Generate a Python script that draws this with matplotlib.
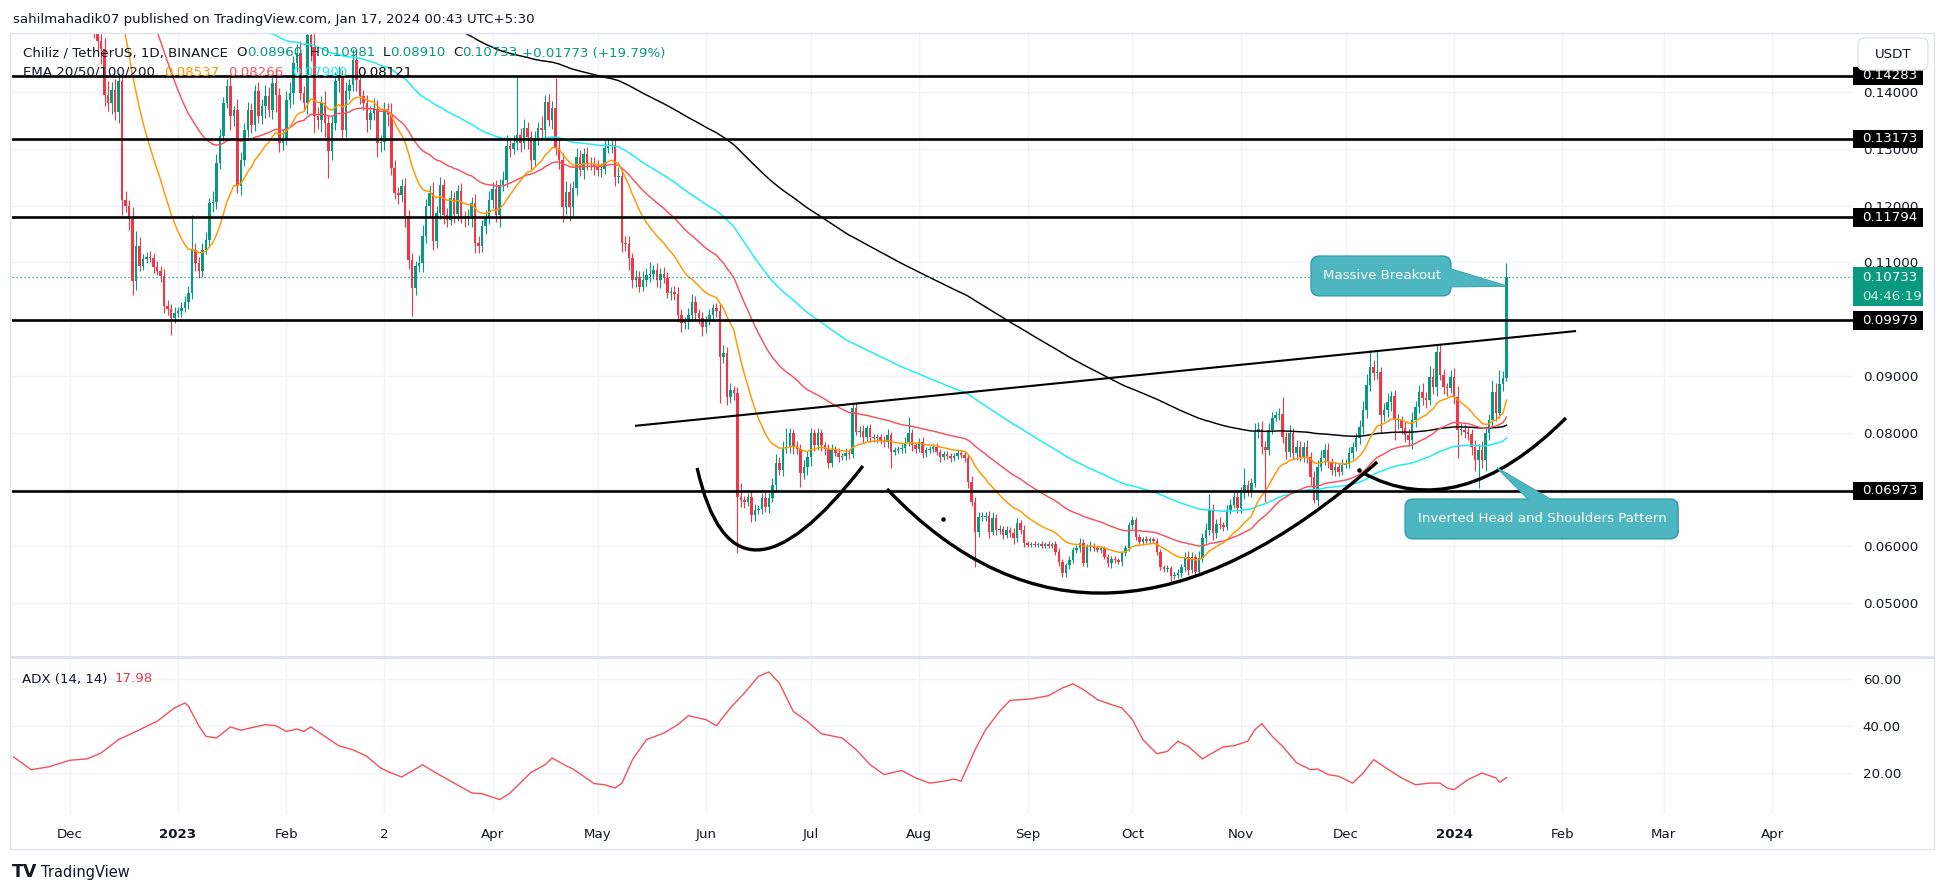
import numpy as np
import pandas as pd
import matplotlib
matplotlib.use('Agg')
import matplotlib.pyplot as plt
from matplotlib.patches import Rectangle, FancyBboxPatch, Polygon, PathPatch
from matplotlib.path import Path
from matplotlib.transforms import blended_transform_factory, IdentityTransform

plt.rcParams['font.family'] = ['DejaVu Sans']

# daily CHZ/USDT candles, first day 2022-11-15, open = previous close
first_day = '2022-11-15'
first_open = 0.2100

closes_2022_11 = [0.205, 0.198, 0.201, 0.194, 0.188, 0.191, 0.185, 0.179, 0.183, 0.186,
                  0.181, 0.176, 0.178, 0.172, 0.175, 0.169]
closes_2022_12 = [0.171, 0.166, 0.163, 0.167, 0.161, 0.158, 0.156, 0.152, 0.149, 0.1475,
                  0.1395, 0.1381, 0.1403, 0.1365, 0.1419, 0.1210, 0.1200, 0.1177, 0.1067, 0.1129,
                  0.1094, 0.1105, 0.1110, 0.1108, 0.1092, 0.1085, 0.1076, 0.1023, 0.1018, 0.1002,
                  0.1011]
closes_2023_01 = [0.1014, 0.1020, 0.1030, 0.1046, 0.1122, 0.1099, 0.1085, 0.1122, 0.1139, 0.1204,
                  0.1206, 0.1275, 0.1322, 0.1381, 0.1411, 0.1358, 0.1368, 0.1234, 0.1280, 0.1333,
                  0.1368, 0.1342, 0.1402, 0.1358, 0.1375, 0.1393, 0.1368, 0.1416, 0.1395, 0.1310,
                  0.1318]
closes_2023_02 = [0.1386, 0.1398, 0.1451, 0.1469, 0.1398, 0.1381, 0.1500, 0.1480, 0.1358, 0.1350,
                  0.1381, 0.1345, 0.1296, 0.1345, 0.1420, 0.1426, 0.1333, 0.1402, 0.1412, 0.1456,
                  0.1421, 0.1393, 0.1380, 0.1350, 0.1363, 0.1370, 0.1310, 0.1312]
closes_2023_03 = [0.1368, 0.1360, 0.1266, 0.1222, 0.1218, 0.1234, 0.1182, 0.1104, 0.1055, 0.1093,
                  0.1098, 0.1146, 0.1199, 0.1222, 0.1137, 0.1187, 0.1236, 0.1183, 0.1175, 0.1213,
                  0.1185, 0.1225, 0.1180, 0.1178, 0.1182, 0.1205, 0.1134, 0.1128, 0.1164, 0.1180,
                  0.1210]
closes_2023_04 = [0.1230, 0.1183, 0.1236, 0.1245, 0.1305, 0.1300, 0.1310, 0.1324, 0.1310, 0.1337,
                  0.1320, 0.1280, 0.1316, 0.1337, 0.1333, 0.1382, 0.1350, 0.1372, 0.1301, 0.1280,
                  0.1197, 0.1224, 0.1197, 0.1231, 0.1286, 0.1262, 0.1291, 0.1275, 0.1273, 0.1268]
closes_2023_05 = [0.1262, 0.1265, 0.1301, 0.1305, 0.1307, 0.1250, 0.1252, 0.1134, 0.1132, 0.1107,
                  0.1069, 0.1074, 0.1057, 0.1069, 0.1078, 0.1080, 0.1086, 0.1069, 0.1080, 0.1073,
                  0.1046, 0.1048, 0.1044, 0.1007, 0.0993, 0.0995, 0.1007, 0.1030, 0.1010, 0.1002,
                  0.0986]
closes_2023_06 = [0.0998, 0.1007, 0.1019, 0.1015, 0.0933, 0.0940, 0.0863, 0.0875, 0.0870, 0.0687,
                  0.0681, 0.0678, 0.0687, 0.0655, 0.0664, 0.0666, 0.0685, 0.0669, 0.0685, 0.0708,
                  0.0747, 0.0734, 0.0773, 0.0775, 0.0799, 0.0775, 0.0772, 0.0729, 0.0740, 0.0757]
closes_2023_07 = [0.0799, 0.0778, 0.0799, 0.0778, 0.0772, 0.0747, 0.0770, 0.0765, 0.0757, 0.0759,
                  0.0765, 0.0763, 0.0843, 0.0801, 0.0803, 0.0792, 0.0808, 0.0792, 0.0790, 0.0792,
                  0.0786, 0.0783, 0.0796, 0.0766, 0.0769, 0.0771, 0.0773, 0.0782, 0.0799, 0.0778,
                  0.0772]
closes_2023_08 = [0.0784, 0.0764, 0.0769, 0.0772, 0.0774, 0.0766, 0.0757, 0.0762, 0.0759, 0.0755,
                  0.0759, 0.0764, 0.0761, 0.0755, 0.0713, 0.0678, 0.0625, 0.0651, 0.0652, 0.0654,
                  0.0625, 0.0650, 0.0628, 0.0630, 0.0620, 0.0628, 0.0624, 0.0614, 0.0641, 0.0629,
                  0.0605]
closes_2023_09 = [0.0603, 0.0604, 0.0603, 0.0604, 0.0601, 0.0604, 0.0601, 0.0604, 0.0590, 0.0572,
                  0.0553, 0.0567, 0.0576, 0.0593, 0.0596, 0.0606, 0.0570, 0.0599, 0.0601, 0.0597,
                  0.0593, 0.0596, 0.0581, 0.0570, 0.0578, 0.0575, 0.0572, 0.0588, 0.0597, 0.0637]
closes_2023_10 = [0.0646, 0.0616, 0.0608, 0.0613, 0.0610, 0.0612, 0.0610, 0.0590, 0.0563, 0.0560,
                  0.0562, 0.0548, 0.0550, 0.0553, 0.0563, 0.0581, 0.0558, 0.0581, 0.0555, 0.0579,
                  0.0614, 0.0629, 0.0664, 0.0623, 0.0640, 0.0637, 0.0634, 0.0664, 0.0673, 0.0687,
                  0.0667]
closes_2023_11 = [0.0694, 0.0708, 0.0696, 0.0711, 0.0801, 0.0806, 0.0775, 0.0770, 0.0805, 0.0826,
                  0.0831, 0.0833, 0.0792, 0.0766, 0.0799, 0.0764, 0.0775, 0.0758, 0.0775, 0.0758,
                  0.0722, 0.0681, 0.0740, 0.0755, 0.0770, 0.0748, 0.0734, 0.0739, 0.0731, 0.0743]
closes_2023_12 = [0.0745, 0.0764, 0.0775, 0.0790, 0.0810, 0.0840, 0.0884, 0.0916, 0.0905, 0.0906,
                  0.0831, 0.0840, 0.0854, 0.0864, 0.0822, 0.0822, 0.0809, 0.0795, 0.0787, 0.0822,
                  0.0845, 0.0872, 0.0861, 0.0858, 0.0898, 0.0880, 0.0942, 0.0902, 0.0880, 0.0879,
                  0.0898]
closes_2024_01 = [0.0863, 0.0805, 0.0805, 0.0802, 0.0797, 0.0775, 0.0752, 0.0770, 0.0752, 0.0799,
                  0.0822, 0.0872, 0.0835, 0.0885, 0.0896, 0.10733]

# wick lengths above / below the body, in units of 0.0001
wick_up = ([45, 40, 50, 35, 40, 45, 30, 40, 35, 40, 30, 35, 40, 30, 35, 30]
           + [30, 35, 30, 40, 30, 35, 30, 25, 20, 20, 20, 25, 15, 20, 15, 10, 15, 10, 20, 26,
              15, 10, 8, 10, 8, 10, 8, 12, 10, 8, 10]
           + [8, 10, 10, 12, 61, 12, 10, 12, 15, 10, 20, 15, 12, 10, 12, 15, 8, 20, 15, 12,
              15, 12, 10, 15, 12, 20, 15, 10, 18, 12, 15]
           + [15, 20, 12, 15, 20, 12, 30, 40, 25, 15, 12, 20, 15, 12, 15, 20, 12, 15, 10, 20,
              15, 12, 10, 15, 12, 20, 15, 12]
           + [15, 12, 20, 15, 10, 12, 15, 10, 12, 10, 15, 20, 12, 15, 20, 12, 15, 10, 12, 15,
              10, 12, 15, 10, 12, 10, 15, 12, 10, 12, 15]
           + [12, 15, 10, 15, 20, 12, 15, 106, 12, 15, 10, 12, 15, 10, 20, 12, 15, 12, 52, 15,
              12, 20, 15, 12, 15, 12, 10, 12, 10, 12]
           + [12, 10, 15, 12, 10, 12, 15, 10, 12, 15, 10, 12, 10, 15, 12, 20, 10, 12, 10, 12,
              10, 8, 10, 12, 10, 8, 12, 15, 10, 8, 10]
           + [8, 10, 8, 10, 12, 15, 10, 12, 8, 10, 25, 8, 6, 8, 10, 6, 8, 10, 8, 12,
              15, 10, 12, 33, 10, 8, 10, 8, 12, 10]
           + [10, 8, 10, 8, 6, 8, 10, 6, 8, 6, 8, 6, 7, 11, 8, 10, 6, 8, 6, 5,
              6, 8, 10, 6, 5, 6, 8, 10, 29, 8, 6]
           + [6, 8, 6, 5, 6, 8, 5, 6, 5, 6, 5, 6, 5, 6, 8, 10, 8, 10, 8, 6,
              8, 10, 6, 8, 6, 8, 6, 8, 8, 6, 8]
           + [5, 4, 5, 4, 5, 4, 5, 4, 5, 6, 5, 4, 6, 5, 6, 8, 6, 5, 8, 5,
              4, 5, 4, 6, 5, 4, 5, 4, 5, 6]
           + [7, 6, 5, 4, 5, 4, 5, 4, 5, 4, 5, 4, 5, 6, 5, 8, 10, 8, 6, 12,
              10, 12, 28, 10, 8, 12, 6, 8, 10, 12, 8]
           + [10, 30, 8, 10, 16, 12, 15, 10, 12, 10, 8, 10, 30, 10, 15, 10, 12, 10, 8, 12,
              8, 10, 12, 15, 10, 12, 8, 10, 8, 10]
           + [8, 10, 8, 10, 12, 15, 20, 30, 12, 40, 10, 12, 15, 10, 12, 10, 8, 10, 12, 15,
              10, 12, 15, 10, 20, 15, 12, 12, 10, 8, 12]
           + [15, 20, 12, 10, 8, 10, 12, 10, 15, 12, 10, 21, 15, 25, 12, 25])
wick_dn = ([40, 45, 35, 40, 50, 35, 45, 30, 40, 35, 40, 45, 30, 40, 35, 40]
           + [35, 30, 40, 30, 35, 30, 30, 25, 20, 25, 20, 15, 20, 15, 20, 27, 12, 20, 25, 15,
              10, 8, 6, 8, 10, 8, 10, 12, 10, 30, 8]
           + [8, 10, 8, 12, 10, 15, 12, 10, 8, 12, 15, 12, 10, 8, 10, 25, 18, 12, 15, 10,
              12, 15, 10, 12, 15, 20, 12, 15, 30, 15, 12]
           + [12, 15, 20, 15, 12, 15, 20, 25, 30, 15, 20, 25, 48, 15, 12, 20, 15, 12, 15, 10,
              20, 15, 12, 20, 15, 12, 25, 15]
           + [15, 20, 12, 10, 15, 12, 20, 15, 49, 12, 10, 15, 12, 20, 15, 12, 10, 15, 12, 10,
              15, 12, 10, 15, 12, 20, 18, 12, 10, 15, 12]
           + [15, 12, 20, 10, 12, 15, 10, 12, 15, 10, 20, 15, 12, 10, 15, 12, 10, 15, 12, 15,
              26, 12, 25, 15, 12, 10, 15, 12, 10, 15]
           + [10, 12, 10, 8, 12, 15, 10, 15, 12, 20, 15, 12, 10, 8, 10, 12, 10, 12, 15, 10,
              8, 12, 10, 12, 15, 10, 12, 8, 12, 10, 15]
           + [10, 8, 10, 12, 81, 10, 14, 10, 12, 99, 12, 10, 8, 12, 10, 8, 10, 8, 10, 8,
              10, 8, 10, 8, 10, 12, 10, 25, 10, 15]
           + [15, 10, 8, 10, 12, 10, 8, 6, 8, 6, 8, 10, 8, 6, 8, 10, 6, 8, 6, 8,
              6, 8, 10, 28, 6, 5, 6, 8, 6, 10, 8]
           + [6, 8, 6, 5, 6, 5, 8, 6, 5, 6, 5, 6, 5, 6, 10, 8, 62, 8, 6, 8,
              10, 6, 8, 6, 8, 6, 8, 10, 6, 8, 6]
           + [5, 4, 5, 4, 5, 4, 5, 4, 5, 6, 8, 7, 8, 6, 5, 6, 5, 6, 8, 5,
              4, 5, 4, 6, 8, 5, 4, 6, 5, 6]
           + [6, 5, 4, 5, 4, 5, 4, 6, 5, 6, 5, 11, 5, 6, 8, 6, 8, 6, 8, 5,
              6, 8, 10, 12, 8, 6, 8, 6, 8, 6, 8]
           + [8, 10, 8, 10, 6, 10, 12, 92, 10, 8, 6, 8, 10, 12, 8, 10, 12, 8, 10, 12,
              15, 5, 10, 8, 12, 10, 8, 10, 8, 6]
           + [6, 8, 10, 8, 10, 12, 15, 10, 12, 10, 32, 10, 12, 15, 35, 15, 12, 12, 10, 15,
              12, 10, 12, 15, 10, 12, 15, 10, 12, 15, 10]
           + [12, 50, 10, 12, 10, 15, 20, 50, 15, 20, 12, 10, 15, 10, 12, 5])

# EMA starting values on the first day (history before the window)
ema_seed = {20: 0.200, 50: 0.195, 100: 0.210, 200: 0.200}

# ADX (14,14): day offset from 2023-01-01, value
adx_day = [-47, -42, -37, -31, -26, -22, -17, -12, -6, -1,
           2, 3, 6, 8, 11, 15, 18, 22, 25, 28,
           31, 34, 36, 38, 42, 46, 50, 54, 58, 61,
           64, 70, 73, 79, 84, 87, 92, 95, 101, 105,
           107, 111, 113, 116, 119, 122, 125, 127, 130, 134,
           139, 143, 146, 151, 154, 158, 162, 166, 169, 172,
           176, 180, 184, 190, 194, 198, 202, 207, 211, 215,
           219, 222, 224, 228, 231, 235, 238, 244, 249, 253,
           256, 259, 263, 267, 270, 273, 276, 280, 283, 286,
           289, 293, 295, 299, 302, 306, 308, 310, 313, 316,
           320, 324, 326, 329, 332, 336, 339, 342, 346, 350,
           354, 358, 361, 363, 365, 369, 373, 377, 378, 380]
adx_val = [26.8, 21.4, 22.6, 25.4, 26.0, 28.5, 34.2, 37.7, 42.0, 47.7,
           49.8, 48.4, 40.0, 35.6, 34.9, 39.6, 38.2, 39.6, 40.6, 40.1,
           37.7, 38.7, 37.7, 39.6, 35.6, 31.6, 29.9, 27.1, 22.1, 20.0,
           18.3, 23.5, 20.7, 15.7, 11.5, 11.2, 8.7, 11.5, 20.3, 23.5,
           26.4, 23.1, 21.7, 18.6, 15.5, 15.0, 13.6, 15.7, 25.7, 34.2,
           37.0, 40.6, 44.4, 42.7, 40.1, 47.7, 54.0, 61.1, 63.0, 58.3,
           46.2, 42.0, 36.7, 34.9, 29.9, 23.5, 19.3, 21.1, 17.9, 15.7,
           16.5, 17.4, 16.5, 29.9, 38.4, 46.2, 50.9, 51.5, 52.9, 56.2,
           57.9, 55.5, 51.2, 49.1, 47.7, 42.7, 34.2, 28.2, 29.2, 33.5,
           31.3, 26.0, 27.8, 31.1, 31.6, 33.5, 38.4, 41.0, 35.6, 31.3,
           24.3, 21.4, 21.7, 19.3, 18.6, 15.7, 20.0, 25.7, 21.7, 17.9,
           15.0, 15.7, 15.7, 13.6, 12.9, 17.2, 20.0, 17.9, 16.0, 18.0]

# drawings
levels = [0.14283, 0.13173, 0.11794, 0.09979, 0.06973]
last_price = 0.10733
trend_x = [130.7, 399.9]
trend_y = [0.0812, 0.0979]
arcs = [  # quadratic curves: start, control, end  (day, price)
    [(148.5, 0.07378), (159.0, 0.04472), (195.9, 0.07413)],
    [(202.8, 0.07008), (262.9, 0.03116), (343.0, 0.07483)],
    [(339.0, 0.07290), (366.4, 0.06374), (397.0, 0.08258)],
]
dots_x = [218.8, 337.8]
dots_y = [0.0648, 0.07342]

price_ticks = [0.05, 0.06, 0.07, 0.08, 0.09, 0.10, 0.11, 0.12, 0.13, 0.14]
adx_ticks = [20, 40, 60]
month_lbl = ['Dec', '2023', 'Feb', '2', 'Apr', 'May', 'Jun', 'Jul', 'Aug', 'Sep', 'Oct',
             'Nov', 'Dec', '2024', 'Feb', 'Mar', 'Apr']

UP = '#089981'
DN = '#F23645'
TXT = '#131722'
GRID = '#F0F3FA'
BORDER = '#E0E3EB'
EMA_COL = {20: '#FF9800', 50: '#F7525F', 100: '#18EEF2', 200: '#000000'}
CALL_FC = '#4DB6C1'
CALL_EC = '#2E9EAB'
FS = 9.6

closes = (closes_2022_11 + closes_2022_12 + closes_2023_01 + closes_2023_02 + closes_2023_03
          + closes_2023_04 + closes_2023_05 + closes_2023_06 + closes_2023_07 + closes_2023_08
          + closes_2023_09 + closes_2023_10 + closes_2023_11 + closes_2023_12 + closes_2024_01)

t0 = pd.Timestamp('2023-01-01')
dates = pd.date_range(first_day, periods=len(closes), freq='D')
day = (dates - t0).days.to_numpy()
c = np.array(closes)
o = np.concatenate([[first_open], c[:-1]])
hi = np.maximum(o, c) + np.array(wick_up) * 1e-4
lo = np.minimum(o, c) - np.array(wick_dn) * 1e-4


def ema(vals, n, seed):
    a = 2.0 / (n + 1)
    out, e = [], seed
    for v in vals:
        e += a * (v - e)
        out.append(e)
    return np.array(out)


W, H = 1946, 893
fig = plt.figure(figsize=(W / 100, H / 100), dpi=100)
fig.patch.set_facecolor('white')


def fx(px):
    return px / W


def fy(py):
    return 1 - py / H


ax = fig.add_axes([fx(12), fy(656), fx(1853) - fx(12), fy(33) - fy(656)])
ax2 = fig.add_axes([fx(12), fy(814), fx(1853) - fx(12), fy(658) - fy(814)])

xmin, xmax = (12 - 178) / 3.496, (1853 - 178) / 3.496
ax.set_xlim(xmin, xmax)
ax.set_ylim(0.05 - (656 - 603) / 5678, 0.05 + (603 - 33) / 5678)
ax2.set_xlim(xmin, xmax)
ax2.set_ylim(20 - (814 - 773) / 2.35, 60 + (679 - 658) / 2.35)

month_day = (pd.date_range('2022-12-01', '2024-04-01', freq='MS') - t0).days.to_numpy()

for a in (ax, ax2):
    for s in a.spines.values():
        s.set_visible(False)
    a.set_facecolor('white')
    for m in month_day:
        a.axvline(m, color=GRID, lw=1, zorder=0)

for p in price_ticks:
    ax.axhline(p, color=GRID, lw=1, zorder=0)
for v in adx_ticks:
    ax2.axhline(v, color=GRID, lw=1, zorder=0)

# candles
cols = np.where(c >= o, UP, DN)
body_lo = np.minimum(o, c)
body_h = np.maximum(np.abs(c - o), 0.00015)
ax.vlines(day, lo, hi, colors=cols, lw=0.8, zorder=3)
ax.bar(day, body_h, bottom=body_lo, width=0.72, color=cols, lw=0, zorder=3)

# moving averages
for n in (200, 100, 50, 20):
    ax.plot(day, ema(c, n, ema_seed[n]), color=EMA_COL[n], lw=1.05, zorder=4)

# support / resistance and pattern drawings
for lv in levels:
    ax.axhline(lv, color='black', lw=1.9, zorder=5)
ax.axhline(last_price, color=UP, lw=0.9, ls=(0, (1, 2.2)), zorder=5)
ax.plot(trend_x, trend_y, color='black', lw=1.5, zorder=5, solid_capstyle='butt')
for p0, p1, p2 in arcs:
    path = Path([p0, p1, p2], [Path.MOVETO, Path.CURVE3, Path.CURVE3])
    ax.add_patch(PathPatch(path, fc='none', ec='black', lw=2.4, zorder=5))
ax.scatter(dots_x, dots_y, s=5, color='black', zorder=5)


def callout(box, tail, text, tx, ty):
    x0, y0, x1, y1 = box
    kw = dict(boxstyle='round,pad=0,rounding_size=2.3', mutation_aspect=0.000613)
    ax.add_patch(Polygon(tail, closed=True, fc=CALL_FC, ec=CALL_EC, lw=1, zorder=8))
    ax.add_patch(FancyBboxPatch((x0, y0), x1 - x0, y1 - y0, fc=CALL_FC, ec=CALL_EC, lw=1,
                                zorder=8, **kw))
    ax.add_patch(Polygon(tail, closed=True, fc=CALL_FC, ec='none', zorder=8.5))
    ax.add_patch(FancyBboxPatch((x0 + 0.4, y0 + 0.00015), x1 - x0 - 0.8, y1 - y0 - 0.0003,
                                fc=CALL_FC, ec='none', zorder=8.5, **kw))
    ax.text(tx, ty, text, color='white', fontsize=FS, va='center', ha='left', zorder=9)


callout((324.1, 0.1041, 364.1, 0.1111),
        [(362.0, 0.1092), (380.2, 0.1058), (362.0, 0.1057)],
        'Massive Breakout', 327.5, 0.1076)
callout((351.0, 0.0613, 429.1, 0.0683),
        [(377.3, 0.0738), (386.7, 0.0680), (393.3, 0.0680)],
        'Inverted Head and Shoulders Pattern', 354.7, 0.0648)

# right price scale
ax.set_xticks([])
ax.yaxis.tick_right()
ax.set_yticks(price_ticks)
ax.set_yticklabels(['%.5f' % p for p in price_ticks])
ax.tick_params(axis='y', length=0, pad=7, labelsize=FS, colors=TXT)

tr = blended_transform_factory(ax.transAxes, ax.transData)
bw = 70 / 1841
tx_lab = 9 / 1841 + 1.0
for lv in levels:
    ax.add_patch(Rectangle((1.0, lv - 0.00165), bw, 0.0033, transform=tr, clip_on=False,
                           fc='black', ec='none', zorder=10))
    ax.text(tx_lab, lv, '%.5f' % lv, transform=tr, color='white', fontsize=FS,
            va='center', ha='left', zorder=11, clip_on=False)
ax.add_patch(Rectangle((1.0, 0.10231), bw, 0.10918 - 0.10231, transform=tr, clip_on=False,
                       fc=UP, ec='none', zorder=10))
ax.text(tx_lab, last_price, '%.5f' % last_price, transform=tr, color='white', fontsize=FS,
        va='center', ha='left', zorder=11, clip_on=False)
ax.text(tx_lab, 0.10400, '04:46:19', transform=tr, color='#D4F1EA', fontsize=FS,
        va='center', ha='left', zorder=11, clip_on=False)

# ADX pane
ax2.plot(adx_day, adx_val, color='#F4505C', lw=1.0, zorder=3)
ax2.yaxis.tick_right()
ax2.set_yticks(adx_ticks)
ax2.set_yticklabels(['%.2f' % v for v in adx_ticks])
ax2.tick_params(axis='y', length=0, pad=7, labelsize=FS, colors=TXT)
ax2.set_xticks(month_day)
ax2.set_xticklabels(month_lbl)
ax2.tick_params(axis='x', length=0, pad=10, labelsize=FS, colors=TXT)
for lab in ax2.get_xticklabels():
    if lab.get_text() in ('2023', '2024'):
        lab.set_fontweight('bold')
tr2 = blended_transform_factory(ax2.transAxes, ax2.transData)
t = ax2.text(10 / 1841, 60, 'ADX (14, 14)', transform=tr2, color=TXT, fontsize=FS,
             va='center', ha='left')
ax2.annotate('17.98', xy=(1, 0.5), xycoords=t, xytext=(5, 0), textcoords='offset points',
             color='#F23645', fontsize=FS, va='center', ha='left')


def chain(x_px, y_px, parts):
    art = ax.text((x_px - 12) / 1841, (656 - y_px) / 623, parts[0][0], transform=ax.transAxes,
                  color=parts[0][1], fontsize=FS, va='center', ha='left', zorder=12)
    for s, col, gap in parts[1:]:
        art = ax.annotate(s, xy=(1, 0.5), xycoords=art, xytext=(gap, 0),
                          textcoords='offset points', color=col, fontsize=FS,
                          va='center', ha='left', zorder=12, annotation_clip=False)


chain(23, 53, [('Chiliz / TetherUS, 1D, BINANCE', TXT), ('O', TXT, 6.0), ('0.08960', UP, 0),
               ('H', TXT, 5.5), ('0.10981', UP, 0), ('L', TXT, 5.5), ('0.08910', UP, 0),
               ('C', TXT, 5.5), ('0.10733', UP, 0), ('+0.01773 (+19.79%)', UP, 3.5)])
chain(23, 72, [('EMA 20/50/100/200', TXT), ('0.08537', EMA_COL[20], 6.5),
               ('0.08266', EMA_COL[50], 6.5), ('0.07900', EMA_COL[100], 6.5),
               ('0.08121', EMA_COL[200], 6.5)])

fig.text(fx(13), fy(20), 'sahilmahadik07 published on TradingView.com, Jan 17, 2024 00:43 UTC+5:30',
         color=TXT, fontsize=FS, va='center', ha='left')
fig.text(fx(12), fy(872), 'TV', color=TXT, fontsize=12.5, fontweight='heavy', va='center',
         ha='left')
fig.text(fx(41), fy(872), 'TradingView', color=TXT, fontsize=10.5, va='center', ha='left')

# frame, pane separator, currency button (pixel coordinates)
ident = IdentityTransform()
fig.add_artist(Rectangle((10, H - 849), 1924, 816, fill=False, ec=BORDER, lw=1,
                         transform=ident))
fig.add_artist(Rectangle((10, H - 658.5), 1924, 2.5, fc=BORDER, ec='none', transform=ident))
fig.add_artist(FancyBboxPatch((1858, H - 70), 70, 32, boxstyle='round,pad=0,rounding_size=6',
                              fc='white', ec=BORDER, lw=1, transform=ident))
fig.text(fx(1893), fy(54), 'USDT', color=TXT, fontsize=FS, va='center', ha='center')

fig.savefig('out.png', dpi=100)
